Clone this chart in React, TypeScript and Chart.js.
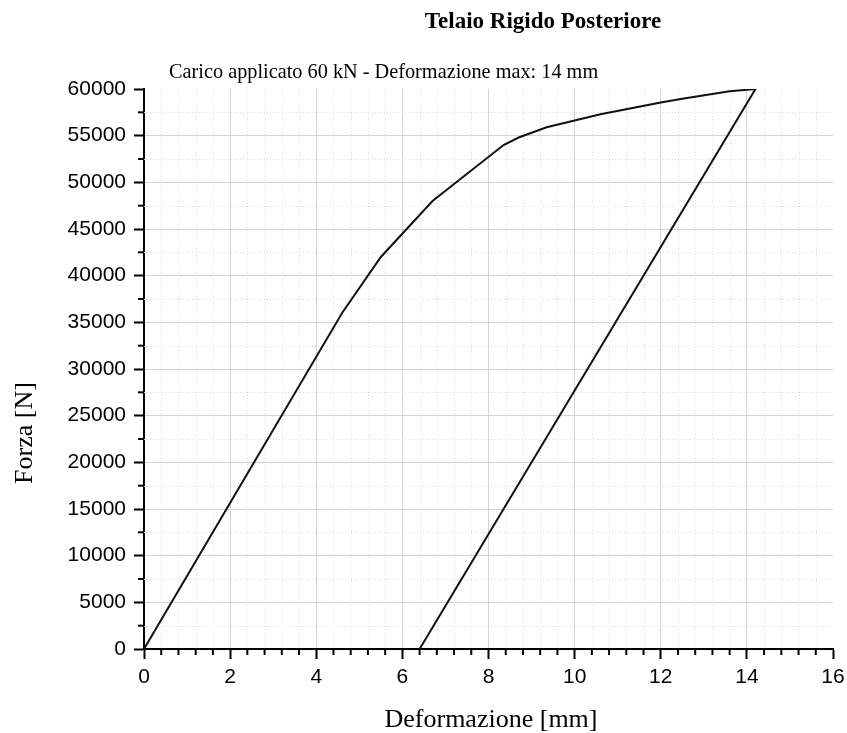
import React, { useEffect, useRef } from "react";
import { Chart, registerables } from "chart.js";

Chart.register(...registerables);

const TITLE = "Telaio Rigido Posteriore";
const SUBTITLE = "Carico applicato 60 kN - Deformazione max: 14 mm";
const X_TITLE = "Deformazione [mm]";
const Y_TITLE = "Forza [N]";

const loadX = [0, 4.6, 5.5, 6.7, 8.35, 8.7, 9.35, 10.6, 12.0, 12.5, 13.6, 14.2];
const loadY = [0, 36000, 42000, 48000, 54000, 54800, 55900, 57300, 58550, 58950, 59750, 60000];
const unloadX = [14.2, 6.4];
const unloadY = [60000, 0];

const X_MIN = 0, X_MAX = 16, X_STEP = 2;
const Y_MIN = 0, Y_MAX = 60000, Y_STEP = 5000;
const X_MINOR_DIV = 5;
const Y_MINOR_DIV = 2;

const SERIF = '"Liberation Serif", "Times New Roman", serif';
const SANS = '"Liberation Sans", Arial, sans-serif';

const points = [
  ...loadX.map((x, i) => ({ x, y: loadY[i] })),
  ...unloadX.slice(1).map((x, i) => ({ x, y: unloadY[i + 1] })),
];

function minorValues(ticks: { value: number }[], div: number) {
  const out: number[] = [];
  for (let i = 0; i < ticks.length - 1; i++) {
    const a = ticks[i].value, b = ticks[i + 1].value;
    for (let k = 1; k < div; k++) out.push(a + ((b - a) * k) / div);
  }
  return out;
}

const decor = {
  id: "decor",
  beforeDatasetsDraw(chart: any) {
    const { ctx, chartArea, scales } = chart;
    const xs = scales.x, ys = scales.y;
    ctx.save();
    ctx.strokeStyle = "#dcdcdc";
    ctx.lineWidth = 1;
    ctx.setLineDash([1, 2]);
    for (const v of minorValues(xs.ticks, X_MINOR_DIV)) {
      const px = Math.round(xs.getPixelForValue(v)) + 0.5;
      ctx.beginPath();
      ctx.moveTo(px, chartArea.top);
      ctx.lineTo(px, chartArea.bottom);
      ctx.stroke();
    }
    for (const v of minorValues(ys.ticks, Y_MINOR_DIV)) {
      const py = Math.round(ys.getPixelForValue(v)) + 0.5;
      ctx.beginPath();
      ctx.moveTo(chartArea.left, py);
      ctx.lineTo(chartArea.right, py);
      ctx.stroke();
    }
    ctx.restore();
  },
  afterDraw(chart: any) {
    const { ctx, chartArea, scales } = chart;
    const xs = scales.x, ys = scales.y;
    ctx.save();
    ctx.strokeStyle = "#000";
    ctx.lineWidth = 2;
    for (const v of minorValues(xs.ticks, X_MINOR_DIV)) {
      const px = xs.getPixelForValue(v);
      ctx.beginPath();
      ctx.moveTo(px, chartArea.bottom);
      ctx.lineTo(px, chartArea.bottom + 6);
      ctx.stroke();
    }
    for (const v of minorValues(ys.ticks, Y_MINOR_DIV)) {
      const py = ys.getPixelForValue(v);
      ctx.beginPath();
      ctx.moveTo(chartArea.left, py);
      ctx.lineTo(chartArea.left - 6, py);
      ctx.stroke();
    }
    ctx.fillStyle = "#000";
    ctx.textBaseline = "alphabetic";
    ctx.font = `bold 23px ${SERIF}`;
    ctx.textAlign = "center";
    ctx.fillText(TITLE, 543, 28);
    ctx.font = `20.3px ${SERIF}`;
    ctx.textAlign = "left";
    ctx.fillText(SUBTITLE, 169, 78);
    ctx.font = `26px ${SERIF}`;
    ctx.textAlign = "center";
    ctx.fillText(X_TITLE, 491, 727);
    ctx.translate(32, 433);
    ctx.rotate(-Math.PI / 2);
    ctx.fillText(Y_TITLE, 0, 0);
    ctx.restore();
  },
};

export default function App() {
  const ref = useRef<HTMLCanvasElement>(null);
  useEffect(() => {
    document.body.style.margin = "0";
    const chart = new Chart(ref.current!, {
      type: "scatter",
      data: {
        datasets: [
          {
            data: points,
            showLine: true,
            borderColor: "#111",
            borderWidth: 2,
            pointRadius: 0,
            tension: 0,
          },
        ],
      },
      options: {
        animation: false,
        responsive: false,
        layout: { padding: { top: 89, right: 14, left: 0, bottom: 0 } },
        plugins: { legend: { display: false }, tooltip: { enabled: false }, title: { display: false } },
        scales: {
          x: {
            type: "linear",
            min: X_MIN,
            max: X_MAX,
            afterFit: (s: any) => { s.height = 84; s.paddingRight = 0; s.paddingLeft = 0; },
            ticks: {
              stepSize: X_STEP,
              color: "#000",
              font: { family: SANS, size: 21 },
              padding: 6,
              callback: (v: any) => String(v),
            },
            grid: {
              color: (c: any) => (c.tick && c.tick.value === X_MAX ? "rgba(0,0,0,0)" : "#d4d4d4"),
              lineWidth: 1,
              tickColor: "#000",
              tickLength: 10,
              tickWidth: 2,
            },
            border: { color: "#000", width: 2 },
          },
          y: {
            type: "linear",
            min: Y_MIN,
            max: Y_MAX,
            afterFit: (s: any) => { s.width = 144; s.paddingTop = 0; s.paddingBottom = 0; },
            ticks: {
              stepSize: Y_STEP,
              color: "#000",
              font: { family: SANS, size: 21 },
              padding: 8,
              callback: (v: any) => String(v),
            },
            grid: {
              color: (c: any) => (c.tick && c.tick.value === Y_MAX ? "rgba(0,0,0,0)" : "#d4d4d4"),
              lineWidth: 1,
              tickColor: "#000",
              tickLength: 10,
              tickWidth: 2,
            },
            border: { color: "#000", width: 2 },
          },
        },
      },
      plugins: [decor],
    });
    return () => chart.destroy();
  }, []);
  return (
    <div style={{ width: 847, height: 733 }}>
      <canvas ref={ref} width={847} height={733} style={{ display: "block" }} />
    </div>
  );
}
